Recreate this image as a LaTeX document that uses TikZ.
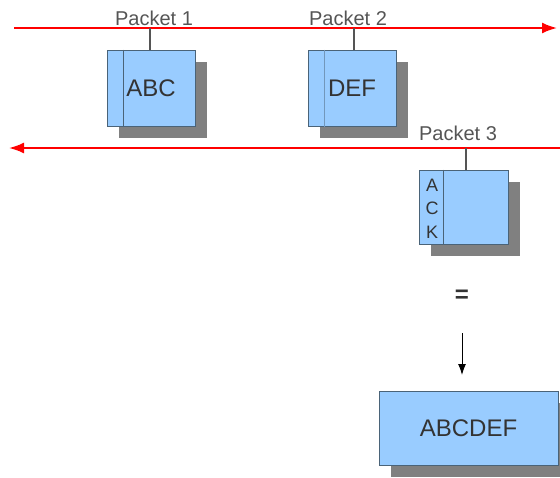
\documentclass[tikz,border=0pt]{standalone}
\usepackage{fontspec}
\setmainfont{Liberation Sans}
\usetikzlibrary{arrows.meta,shadows}
\definecolor{boxfill}{HTML}{99CCFF}
\definecolor{boxline}{HTML}{4A6378}
\definecolor{shadowgray}{HTML}{808080}
\definecolor{txt}{HTML}{333333}
\definecolor{lbl}{HTML}{555555}
\tikzset{
  pkt/.style={draw=boxline, line width=1pt, fill=boxfill, text=txt,
    font=\fontsize{24}{24}\selectfont, inner sep=0pt,
    drop shadow={shadow xshift=12pt, shadow yshift=-12pt, fill=shadowgray, opacity=1}},
  lab/.style={text=lbl, font=\fontsize{20}{20}\selectfont, inner sep=0pt, anchor=base},
  wire/.style={red, line width=2pt, -{Latex[length=15pt,width=11pt]}},
  tick/.style={draw=lbl, line width=1.2pt},
  divider/.style={draw=boxline, line width=0.8pt},
  acklet/.style={text=txt, font=\fontsize{18}{18}\selectfont, inner sep=0pt}
}
\begin{document}
\begin{tikzpicture}[x=1pt,y=-1pt]
\useasboundingbox (0,0) rectangle (560,477);
\clip (0,0) rectangle (560,477);
% wires
\coordinate (w1s) at (14,28);
\coordinate (w1e) at (557,28);
\coordinate (w2s) at (560,148);
\coordinate (w2e) at (9,148);
\draw[wire] (w1s) -- (w1e);
\draw[wire] (w2s) -- (w2e);
% packet 1
\node[lab] (l1) at (154,25) {Packet 1};
\node[pkt, minimum width=88pt, minimum height=76pt] (p1) at (151,88) {ABC};
\coordinate (t1) at (150,28);
\draw[tick] (t1) -- (t1 |- p1.north);
\draw[divider] ([xshift=17pt]p1.north west) -- ([xshift=17pt]p1.south west);
% packet 2
\node[lab] (l2) at (348,25) {Packet 2};
\node[pkt, minimum width=88pt, minimum height=76pt] (p2) at (352,88) {DEF};
\coordinate (t2) at (354,28);
\draw[tick] (t2) -- (t2 |- p2.north);
\draw[divider, draw=boxline!50!boxfill] ([xshift=17pt]p2.north west) -- ([xshift=17pt]p2.south west);
% packet 3
\node[lab] (l3) at (458,140) {Packet 3};
\node[pkt, minimum width=89pt, minimum height=74pt] (p3) at (463.5,207) {};
\coordinate (t3) at (466,148);
\draw[tick] (t3) -- (t3 |- p3.north);
\draw[divider] ([xshift=25pt]p3.north west) -- ([xshift=25pt]p3.south west);
\node[acklet] (ka) at (432,185) {A};
\node[acklet] (kc) at (432,208) {C};
\node[acklet] (kk) at (432,232) {K};
% equals and arrow
\node[text=txt, font=\fontsize{24}{24}\selectfont\bfseries, inner sep=0pt] (eq) at (462,296) {=};
\node[pkt, minimum width=179pt, minimum height=74pt] (res) at (468.5,428) {ABCDEF};
\coordinate (a0) at (462,333);
\draw[black, line width=1pt, -{Latex[length=11pt,width=8pt]}] (a0) -- (462,375);
\end{tikzpicture}
\end{document}
